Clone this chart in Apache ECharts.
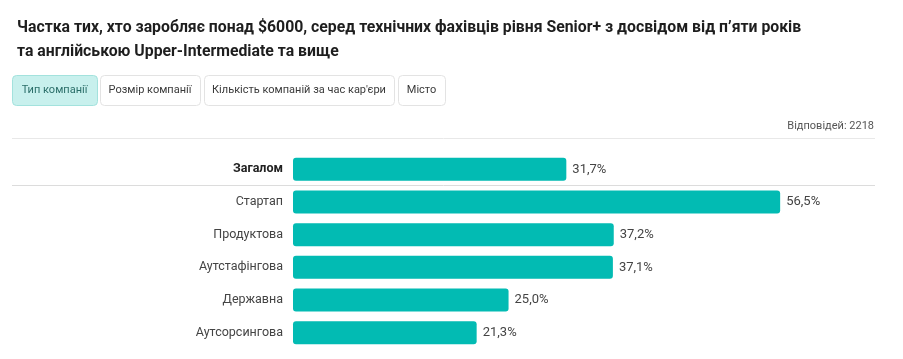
<!DOCTYPE html>
<html>
<head>
<meta charset="utf-8">
<script src="https://cdn.jsdelivr.net/npm/echarts@6/dist/echarts.min.js"></script>
<style>
html,body{margin:0;padding:0;background:#fff;}
#chart{width:903px;height:359px;}
</style>
</head>
<body>
<div id="chart"></div>
<script>
const titleText = 'Частка тих, хто заробляє понад $6000, серед технічних фахівців рівня Senior+ з досвідом від п’яти років\nта англійською Upper-Intermediate та вище';
const tabs = ['Тип компанії', 'Розмір компанії', 'Кількість компаній за час кар\'єри', 'Місто'];
const responses = 'Відповідей: 2218';
const categories = ['Загалом', 'Стартап', 'Продуктова', 'Аутстафінгова', 'Державна', 'Аутсорсингова'];
const values = [31.7, 56.5, 37.2, 37.1, 25.0, 21.3];

const FONT = 'Roboto, "Noto Sans", sans-serif';
const chart = echarts.init(document.getElementById('chart'), null, {renderer: 'canvas'});

const tabBoxes = [[12, 85], [100, 100], [204, 190], [398, 47]];
const graphics = [];
tabs.forEach((t, i) => {
  const [x, w] = tabBoxes[i];
  const active = i === 0;
  graphics.push({
    type: 'rect', left: x, top: 75,
    shape: {width: w, height: 30, r: 4},
    style: {fill: active ? '#c8f0ed' : '#ffffff', stroke: active ? '#a3e2dd' : '#e3e3e3', lineWidth: 1}
  });
  graphics.push({
    type: 'text', x: x + w / 2, y: 90,
    style: {text: t, fill: active ? '#2b6e69' : '#3a3a3a', font: '11px ' + FONT, textAlign: 'center', textVerticalAlign: 'middle'}
  });
});
graphics.push({
  type: 'text', x: 874, y: 126,
  style: {text: responses, fill: '#555', font: '11px ' + FONT, textAlign: 'right', textVerticalAlign: 'middle'}
});
graphics.push({type: 'line', shape: {x1: 12, y1: 138.5, x2: 875, y2: 138.5}, style: {stroke: '#e8e8e8', lineWidth: 1}});
graphics.push({type: 'line', shape: {x1: 12, y1: 185.5, x2: 875, y2: 185.5}, style: {stroke: '#dcdcdc', lineWidth: 1}});

chart.setOption({
  animation: false,
  textStyle: {fontFamily: FONT},
  title: {
    text: titleText, left: 12, top: 11,
    textStyle: {fontSize: 15.8, fontWeight: 'bold', color: '#1e1e1e', lineHeight: 24, fontFamily: FONT}
  },
  graphic: graphics,
  grid: {left: 293, right: 28, top: 153, height: 196},
  xAxis: {type: 'value', min: 0, max: 67.5, show: false},
  yAxis: {
    type: 'category', data: categories, inverse: true,
    axisLine: {show: false}, axisTick: {show: false}, splitLine: {show: false},
    axisLabel: {
      margin: 10, fontSize: 12.5, color: '#444', fontFamily: FONT,
      formatter: (v, i) => i === 0 ? '{b|' + v + '}' : v,
      rich: {b: {fontWeight: 'bold', color: '#222', fontSize: 12.5, fontFamily: FONT}}
    }
  },
  series: [{
    type: 'bar', data: values, barWidth: 23,
    itemStyle: {color: '#02bbb3', borderRadius: 3},
    label: {
      show: true, position: 'right', distance: 6, fontSize: 13, color: '#444', fontFamily: FONT,
      formatter: p => p.value.toFixed(1).replace('.', ',') + '%'
    }
  }]
});
</script>
</body>
</html>
